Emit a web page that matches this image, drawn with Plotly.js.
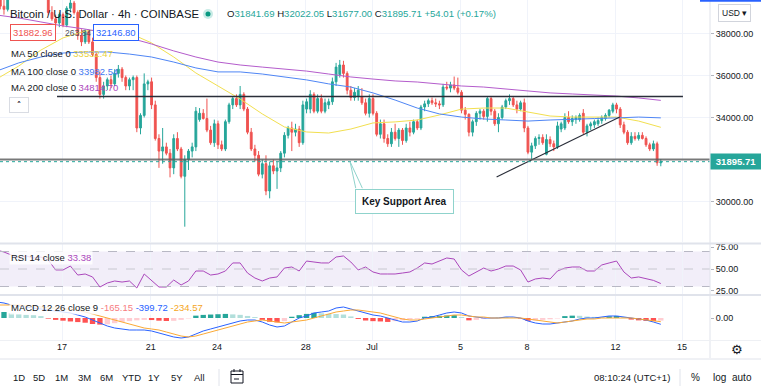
<!DOCTYPE html>
<html><head><meta charset="utf-8">
<script src="https://cdn.plot.ly/plotly-3.0.1.min.js"></script>
<style>html,body{margin:0;padding:0;background:#fff;overflow:hidden}#chart{width:761px;height:392px}</style>
</head><body><div id="chart"></div>
<script>
// ---------- DATA ----------
const startUTC = [2021, 5, 14, 1, 0];   // first 4h candle: 2021-06-14 01:00
const candleHours = 4;

const open = [
39300,39700,39300,39150,39700,40100,40300,40200,40000,40600,
40500,40300,39900,40200,39700,39000,38700,38500,38900,38400,
39200,39450,39000,37900,37600,38100,37600,37000,35900,35100,
35500,35800,35600,36100,36300,35900,35500,35800,35900,33500,
34100,35600,35700,34600,33000,32400,32600,32300,31600,33000,
32500,31200,32000,32400,32600,33900,34200,33950,33400,32800,
33700,32700,32500,33800,34600,34900,34600,35100,34400,33300,
32500,32200,31300,31800,30500,31700,31450,31600,32300,33150,
33500,33300,33450,32800,34400,34400,35100,34300,34900,34300,
34600,34750,35700,36050,36500,36100,35300,34950,35000,35000,
34700,34200,34900,34200,33200,33700,33000,32750,33300,33000,
33400,32900,33500,33300,33800,33500,34500,34650,34800,34700,
34650,34600,35450,35400,35550,35400,35200,34350,34150,33300,
33800,34200,34300,34050,34900,34300,33700,34000,34500,34800,
34900,34600,34400,34700,33500,32350,32650,33000,33050,32250,
32950,32750,32600,33450,33500,34000,33800,33900,33900,34200,
33300,33600,33650,33700,33850,33950,34100,34300,34600,34400,
33650,33300,32800,33100,33000,33150,33000,32700,32500,32750,
31841.69];
const high = [
39800,40000,39600,39900,40300,40500,40700,40600,40900,41000,
40800,40500,40300,40400,39900,39300,38900,39000,39000,39300,
39600,39550,39100,38200,38200,38200,37800,37100,36200,35700,
35900,36000,36300,36500,36400,36000,35900,36000,36000,34200,
36100,35800,35900,34800,33200,33500,32800,32500,33200,33300,
32600,32200,32500,32800,34500,34450,34400,34900,33600,33900,
33850,32900,33900,34700,35000,35100,35500,35200,34500,33500,
32700,32400,32000,32200,31900,32000,31900,32400,33300,33600,
33800,33700,33600,34800,34900,35300,35200,35100,35100,34900,
34900,35900,36600,36740,36700,36200,35500,35400,35500,35400,
34900,35100,35100,34300,33900,33900,33200,33500,33700,33500,
33500,33700,33800,33900,33900,34600,34800,34900,34950,34900,
34800,35600,35700,35700,35950,35900,35300,34500,34200,33900,
34300,34400,34400,35000,35000,34400,34200,34600,34900,35100,
35000,34800,34800,34900,33600,32800,33100,33200,33200,33200,
33100,32900,33800,33800,34200,34300,34100,34100,34200,34400,
33700,33800,33900,34000,34100,34200,34400,34700,34700,34500,
33800,33400,33300,33300,33300,33300,33100,32800,32900,32850,
32022.05];
const low = [
39100,39150,38900,39050,39600,39900,40000,39800,39900,40300,
40100,39800,39700,39600,38900,38600,38300,38300,38300,38300,
39000,38900,37700,37400,37500,37500,36900,35700,34900,34900,
35300,35400,35500,35900,35700,35300,35300,35300,33300,33200,
34000,35300,34400,32900,31600,31800,32200,31150,31300,32400,
31100,28800,31500,32100,32400,33800,33900,33300,32700,32600,
32500,32400,32400,33700,34400,34500,34400,34300,33200,32400,
31900,31200,31100,30300,30150,31300,30600,31400,32100,33000,
32400,33100,32600,32700,34200,34200,34200,34200,34200,34200,
34400,34600,35500,35900,35900,35100,34800,34800,34800,34600,
34100,34000,34100,33100,33000,32800,32600,32600,32900,32600,
32700,32800,33100,33200,33400,33400,34300,34500,34600,34500,
34400,34500,35300,35200,35300,35100,34200,33900,33100,33100,
33600,33900,33900,33800,34100,33600,33300,33900,34400,34600,
34500,34200,34300,33300,32250,31980,32500,32700,32700,32200,
32600,32400,32500,33300,33400,33700,33600,33700,33800,33200,
33100,33400,33500,33600,33700,33850,34000,34200,34200,33500,
33200,32700,32700,32900,32900,32950,32600,32400,32400,31700,
31677.00];
const close = [
39700,39300,39150,39700,40100,40300,40200,40000,40600,40500,
40300,39900,40200,39700,39000,38700,38500,38900,38400,39200,
39450,39000,37900,37600,38100,37600,37000,35900,35100,35500,
35800,35600,36100,36300,35900,35500,35800,35900,33500,34100,
35600,35700,34600,33000,32400,32600,32300,31600,33000,32500,
31200,32000,32400,32600,34300,34200,33950,33400,32800,33700,
32700,32500,33800,34600,34900,34600,35100,34400,33300,32500,
32200,31300,31800,30500,31700,31450,31600,32300,33150,33500,
33300,33450,32800,34600,34750,35100,34300,34900,34300,34700,
34750,35700,36400,36500,36100,35300,34950,35200,35300,34700,
34200,34900,34200,33200,33700,33000,32750,33300,33000,33400,
32900,33500,33300,33800,33500,34500,34650,34800,34700,34650,
34600,35450,35400,35550,35400,35200,34350,34150,33300,33800,
34200,34300,34050,34900,34300,33700,34000,34500,34800,34900,
34600,34400,34700,33500,32350,32650,33000,33050,32800,32950,
32750,32600,33600,33700,34000,33800,33950,34000,34100,33300,
33600,33700,33800,33850,34000,34100,34350,34600,34400,33650,
33300,32800,33100,33000,33150,33000,32700,32500,32750,31841.70,
31895.71];

// moving averages, sampled every 6 candles (one per day)
const maStep = 6;
const ma50  = [35830,36450,37210,37790,38120,38210,38020,37550,36880,36120,35500,34880,34170,33550,33310,33260,33450,33740,33790,33880,34120,34400,34450,34450,34260,34070,34020,34020,34020,33830,33532.47];
const ma100 = [36210,36600,36880,37070,37120,37120,37020,36880,36640,36360,36170,36170,36070,35930,35790,35600,35450,35170,34830,34450,34170,34020,33930,33880,33830,33880,33930,33950,33980,34020,33982.54];
const ma200 = [38880,38740,38550,38360,38210,38020,37790,37500,37170,36880,36640,36500,36400,36310,36210,36070,35930,35830,35740,35690,35600,35500,35450,35360,35260,35170,35120,35070,35020,34930,34814.70];

// indicators, sampled every 2 candles
const indStep = 2;
const rsi = [
71.7,69.4,66,62.6,64.9,62.6,63.7,60.3,48.9,48.9,
53.4,43.1,44.3,40.9,29.4,34,36.3,35.1,36.3,28.3,
44.3,37.4,29.4,29.4,37.4,31.7,36.3,47.7,47.7,43.1,
44.3,47.7,56.9,56.9,45.4,39.7,36.3,39.7,40.9,51.1,
52.3,47.7,59.1,58,56.9,56.9,63.7,64.9,58,48.9,
52.3,46.6,44.3,44.3,44.3,45.4,46.6,51.1,56.9,55.7,
59.1,62.6,61.4,48.9,42,46.6,51.1,47.7,50,53.4,
53.4,48.9,35.1,38.6,39.7,38.6,47.7,51.1,52.3,52.3,
47.7,47.7,54.6,56.9,59.1,46.6,39.7,40.9,38.6,37,
33.38];
const macdLine = [
1016,952,825,762,698,635,571,508,444,381,
317,190,63,-127,-317,-508,-635,-698,-762,-762,
-762,-825,-952,-1080,-1206,-1270,-1206,-1016,-825,-698,
-571,-444,-317,-190,-127,-127,-254,-444,-571,-508,
-254,0,127,317,381,444,635,698,571,444,
317,190,127,0,-127,-254,-254,-190,0,63,
190,317,381,317,127,63,0,0,0,63,
63,0,-190,-317,-381,-381,-317,-254,-190,-63,
0,0,63,127,127,63,0,-63,-127,-254,
-399.72];
const signalLine = [
825,825,825,825,762,762,698,635,635,571,
571,508,381,254,127,0,-127,-254,-381,-508,
-635,-698,-762,-889,-1016,-1143,-1206,-1143,-1016,-889,
-762,-635,-508,-381,-254,-190,-127,-190,-254,-317,
-254,-190,-127,0,127,254,381,444,508,508,
444,381,317,190,63,-63,-127,-127,-63,0,
63,127,190,190,127,63,63,0,0,0,
0,0,-63,-127,-190,-254,-317,-254,-190,-127,
-63,-63,0,0,0,0,0,-63,-127,-190,
-234.57];
const macdHist = [
250,380,300,250,200,180,120,-40,-120,-170,
-220,-260,-300,-380,-420,-400,-330,-260,-200,-150,
-120,-130,-170,-190,-180,-120,-30,150,200,220,
240,260,230,200,130,60,-120,-240,-280,-200,
80,180,260,330,300,260,250,220,100,-60,
-160,-200,-220,-250,-200,-150,-100,-50,80,120,
140,160,180,60,-150,-120,-60,-20,10,30,
20,-30,-180,-160,-120,-80,-30,120,150,140,
90,70,60,110,130,60,-100,-150,-180,-200,
-165.15];

const tickDates  = ['2021-06-17','2021-06-21','2021-06-24','2021-06-28','2021-07-01','2021-07-05','2021-07-08','2021-07-12','2021-07-15'];
const tickLabels = ['17','21','24','28','Jul','5','8','12','15'];
const priceTicks = [30000,32000,34000,36000,38000];
const priceTickLabels = ['30000.00','','34000.00','36000.00','38000.00'];
const rsiTicks = [25,50,75];
const macdTicks = [0];

const supportLevel = 32000;
const resistanceDates = ['2021-06-16 18:30','2021-07-15 01:00'];
const resistancePrices = [35000,35000];
const trendDates = ['2021-07-06 15:00','2021-07-12 04:30'];
const trendPrices = [31170,34020];
const calloutPoint = ['2021-06-30 00:10', 31895.71];
const calloutBox = ['2021-07-02 11:10', 29980];
const bidPrice = '31882.96', spread = '263.84', askPrice = '32146.80';
const maLabels = ['MA 50 close 0','MA 100 close 0','MA 200 close 0'];

// ---------- BUILD ----------
const base = Date.UTC(...startUTC);
const fmt = ms => new Date(ms).toISOString().slice(0,16).replace('T',' ');
const times = close.map((_,j)=>fmt(base + j*candleHours*3600e3));
const maTimes = ma50.map((_,i)=>times[i*maStep]);
const indTimes = rsi.map((_,i)=>times[i*indStep]);
const N = close.length;
const lastO = open[N-1], lastH = high[N-1], lastL = low[N-1], lastC = close[N-1];
const chg = lastC - close[N-2];

const TEAL = '#26a69a', RED = '#ef5350';
const C50 = '#f2df4f', C100 = '#4f86f5', C200 = '#b45ccc';
const CMACD = '#2962ff', CSIG = '#fbaa36', CRSI = '#ab47bc';

const histColors = macdHist.map((v,i)=>{
  const p = i>0 ? macdHist[i-1] : v;
  if (v >= 0) return v >= p ? '#26a69a' : '#b2dfdb';
  return v < p ? '#ff5252' : '#ffcdd2';
});

const traces = [
  {type:'candlestick', x:times, open, high, low, close, xaxis:'x', yaxis:'y',
   increasing:{line:{color:TEAL,width:1}, fillcolor:TEAL},
   decreasing:{line:{color:RED,width:1}, fillcolor:RED},
   whiskerwidth:0, hoverinfo:'skip', showlegend:false},
  {type:'scatter', mode:'lines', x:maTimes, y:ma50, line:{color:C50,width:1}, yaxis:'y', hoverinfo:'skip'},
  {type:'scatter', mode:'lines', x:maTimes, y:ma100, line:{color:C100,width:1}, yaxis:'y', hoverinfo:'skip'},
  {type:'scatter', mode:'lines', x:maTimes, y:ma200, line:{color:C200,width:1}, yaxis:'y', hoverinfo:'skip'},
  {type:'scatter', mode:'lines', x:resistanceDates, y:resistancePrices, line:{color:'#2a2e39',width:1.3}, yaxis:'y', hoverinfo:'skip'},
  {type:'scatter', mode:'lines', x:trendDates, y:trendPrices, line:{color:'#2a2e39',width:1.2}, yaxis:'y', hoverinfo:'skip'},
  {type:'scatter', mode:'lines', x:indTimes, y:rsi, line:{color:CRSI,width:1}, yaxis:'y2', hoverinfo:'skip'},
  {type:'bar', x:indTimes, y:macdHist, marker:{color:histColors, line:{width:0}}, width:indStep*candleHours*3600e3*0.72, yaxis:'y3', hoverinfo:'skip'},
  {type:'scatter', mode:'lines', x:indTimes, y:macdLine, line:{color:CMACD,width:1}, yaxis:'y3', hoverinfo:'skip'},
  {type:'scatter', mode:'lines', x:indTimes, y:signalLine, line:{color:CSIG,width:1}, yaxis:'y3', hoverinfo:'skip'}
];

const PW = 710, PH = 340;
const X = px => px/PW, Y = py => 1 - py/PH;
const FONT = 'Liberation Sans, Arial, sans-serif';
const txt = (x,y,text,o={}) => Object.assign({xref:'paper',yref:'paper',x:X(x),y:Y(y),text,showarrow:false,
  xanchor:'left',yanchor:'middle',font:{family:FONT,size:9.5,color:'#131722'}},o);
const span = (c,t)=>`<span style="color:${c}">${t}</span>`;

const ohlcText = `O${span(TEAL,lastO.toFixed(2))} H${span(TEAL,lastH.toFixed(2))} L${span(TEAL,lastL.toFixed(2))} C${span(TEAL,lastC.toFixed(2))} ${span(TEAL,(chg>=0?'+':'')+chg.toFixed(2)+' (+'+(chg/close[N-2]*100).toFixed(2)+'%)')}`;

const annotations = [
  txt(8,14,'Bitcoin / U.S. Dollar · 4h · COINBASE',{font:{family:FONT,size:11.3,color:'#131722'}}),
  txt(225,14,ohlcText,{font:{family:FONT,size:9.6,color:'#131722'}}),
  txt(33,33,bidPrice,{xanchor:'center',font:{family:FONT,size:9.5,color:RED},bordercolor:RED,borderwidth:1,borderpad:2,bgcolor:'#fff'}),
  txt(63,33,spread,{font:{family:FONT,size:8.5,color:'#50535e'}}),
  txt(116,33,askPrice,{xanchor:'center',font:{family:FONT,size:9.5,color:'#2962ff'},bordercolor:'#2962ff',borderwidth:1,borderpad:2,bgcolor:'#fff'}),
  txt(9,53,`${maLabels[0]} ${span('#e8d23c',ma50[ma50.length-1].toFixed(2))}`),
  txt(9,71,`${maLabels[1]} ${span('#3f77f0',ma100[ma100.length-1].toFixed(2))}`),
  txt(9,88,`${maLabels[2]} ${span('#ab47bc',ma200[ma200.length-1].toFixed(2))}`),
  txt(19,104.5,'<b>˄</b>',{xanchor:'center',width:14,height:10,borderpad:2,bordercolor:'#d9dce3',borderwidth:1,font:{family:'DejaVu Sans',size:9,color:'#131722'}}),
  txt(9,257,`RSI 14 close ${span(CRSI,rsi[rsi.length-1].toFixed(2))}`,{bgcolor:'rgba(255,255,255,0.8)',borderpad:1}),
  txt(9,307,`MACD 12 26 close 9 ${span('#f77c80',macdHist[macdHist.length-1].toFixed(2))} ${span(CMACD,macdLine[macdLine.length-1].toFixed(2))} ${span('#f5a623',signalLine[signalLine.length-1].toFixed(2))}`,{bgcolor:'rgba(255,255,255,0.8)',borderpad:1}),
  // callout
  {xref:'x',yref:'y',x:calloutBox[0],y:calloutBox[1],text:'<b>Key Support Area</b>',showarrow:false,
   font:{family:FONT,size:10,color:'#131722'},bordercolor:'#8fd3cc',borderwidth:1,borderpad:6,bgcolor:'#fff'},
  {xref:'x',yref:'y',x:calloutPoint[0],y:calloutPoint[1],text:'',showarrow:true,arrowhead:0,arrowwidth:1,arrowcolor:'#8fd3cc',ax:6,ay:28},
  {xref:'x',yref:'y',x:calloutPoint[0],y:calloutPoint[1],text:'',showarrow:true,arrowhead:0,arrowwidth:1,arrowcolor:'#8fd3cc',ax:13,ay:28},
  // last price label on axis
  {xref:'paper',yref:'y',x:1,y:lastC,xanchor:'left',yanchor:'middle',text:'<b>'+lastC.toFixed(2)+'</b>',showarrow:false,
   bgcolor:TEAL,font:{family:FONT,size:9.5,color:'#fff'},borderpad:2,width:46},
  txt(734,13,'USD ▾',{xanchor:'center',font:{family:FONT,size:8.5,color:'#131722'},bordercolor:'#d1d4dc',borderwidth:1,borderpad:3}),
  txt(737,350,'⚙',{xanchor:'center',font:{family:'DejaVu Sans',size:13,color:'#131722'}}),
];
const tools = [['1D',18.5],['5D',39],['1M',61.5],['3M',84.5],['6M',106.5],['YTD',131.5],['1Y',154],['5Y',176.5],['All',199]];
tools.forEach(([t,x])=>annotations.push(txt(x,377,t,{xanchor:'center',font:{family:FONT,size:9.5,color:'#131722'}})));
annotations.push(txt(632,377,'08:10:24 (UTC+1)',{xanchor:'center',font:{family:FONT,size:9.5,color:'#131722'}}));
annotations.push(txt(695,377,'%',{xanchor:'center',font:{family:FONT,size:10,color:'#131722'}}));
annotations.push(txt(719,377,'log',{xanchor:'center',font:{family:FONT,size:10,color:'#131722'}}));
annotations.push(txt(742,377,'auto',{xanchor:'center',font:{family:FONT,size:10,color:'#131722'}}));

const line = (x0,y0,x1,y1,color,width,o={}) => Object.assign({type:'line',xref:'paper',yref:'paper',x0:X(x0),y0:Y(y0),x1:X(x1),y1:Y(y1),line:{color,width}},o);
const shapes = [
  {type:'rect',xref:'paper',yref:'y2',x0:0,x1:1,y0:30,y1:70,fillcolor:'rgba(126,87,194,0.1)',line:{width:0},layer:'below'},
  {type:'line',xref:'paper',yref:'y2',x0:0,x1:1,y0:70,y1:70,line:{color:'#b8b8c4',width:1,dash:'dash'}},
  {type:'line',xref:'paper',yref:'y2',x0:0,x1:1,y0:50,y1:50,line:{color:'#c8c8d0',width:1,dash:'dash'}},
  {type:'line',xref:'paper',yref:'y2',x0:0,x1:1,y0:30,y1:30,line:{color:'#b8b8c4',width:1,dash:'dash'}},
  {type:'line',xref:'paper',yref:'y',x0:0,x1:1,y0:supportLevel,y1:supportLevel,line:{color:'rgba(90,90,90,0.8)',width:2}},
  {type:'line',xref:'paper',yref:'y',x0:0,x1:1,y0:lastC,y1:lastC,line:{color:TEAL,width:1,dash:'dot'}},
  line(0,243.5,761,243.5,'#e0e3eb',2),
  line(0,295,761,295,'#e0e3eb',2),
  line(710,0,710,358,'#e0e3eb',1),
  line(0,340.5,761,340.5,'#eef0f4',1),
  line(0,359,761,359,'#e0e3eb',1),
  line(219,369,219,386,'#e0e3eb',1),
  line(680,369,680,386,'#e0e3eb',1),
  line(700,0.8,761,0.8,'#2962ff',2),
  {type:'rect',xref:'paper',yref:'paper',x0:X(231),x1:X(243),y0:Y(383),y1:Y(371),line:{color:'#131722',width:1}},
  line(231,374.5,243,374.5,'#131722',1),
  line(234,369,234,372,'#131722',1), line(240,369,240,372,'#131722',1),
  line(234,379,239,379,'#131722',1),
  {type:'circle',xref:'paper',yref:'paper',xsizemode:'pixel',ysizemode:'pixel',xanchor:X(208),yanchor:Y(14),x0:-5,x1:5,y0:-5,y1:5,fillcolor:'#c8ebe6',line:{width:0}},
  {type:'circle',xref:'paper',yref:'paper',xsizemode:'pixel',ysizemode:'pixel',xanchor:X(208),yanchor:Y(14),x0:-2.5,x1:2.5,y0:-2.5,y1:2.5,fillcolor:'#089981',line:{width:0}},
];

const axisFont = {family:FONT,size:9,color:'#131722'};
const layout = {
  width:761, height:392, margin:{l:0,r:51,t:0,b:52,pad:0},
  paper_bgcolor:'#fff', plot_bgcolor:'#fff', showlegend:false, hovermode:false,
  barmode:'overlay',
  xaxis:{type:'date', range:['2021-06-14 04:41','2021-07-16 06:20'], anchor:'y3',
    tickvals:tickDates, ticktext:tickLabels, tickfont:axisFont, ticks:'', showgrid:true, gridcolor:'#f0f3fa',
    zeroline:false, showline:false, rangeslider:{visible:false}, fixedrange:true, automargin:false},
  yaxis:{domain:[1-242/PH,1], range:[28071,39595], side:'right', anchor:'x', tickvals:priceTicks, ticktext:priceTickLabels,
    tickfont:axisFont, ticks:'outside', ticklen:3, tickcolor:'#b2b5be', showgrid:true, gridcolor:'#f0f3fa', zeroline:false, automargin:false},
  yaxis2:{domain:[1-294/PH,1-244/PH], range:[21.43,78.57], side:'right', anchor:'x', tickvals:rsiTicks, ticktext:rsiTicks.map(v=>v.toFixed(2)),
    tickfont:axisFont, ticks:'outside', ticklen:3, tickcolor:'#b2b5be', showgrid:false, zeroline:false, automargin:false},
  yaxis3:{domain:[0,1-296/PH], range:[-1397,1397], side:'right', anchor:'x', tickvals:macdTicks, ticktext:macdTicks.map(v=>v.toFixed(2)),
    tickfont:axisFont, ticks:'outside', ticklen:3, tickcolor:'#b2b5be', showgrid:false, zeroline:false, automargin:false},
  annotations, shapes
};
Plotly.newPlot('chart', traces, layout, {displayModeBar:false, staticPlot:true});
</script></body></html>
